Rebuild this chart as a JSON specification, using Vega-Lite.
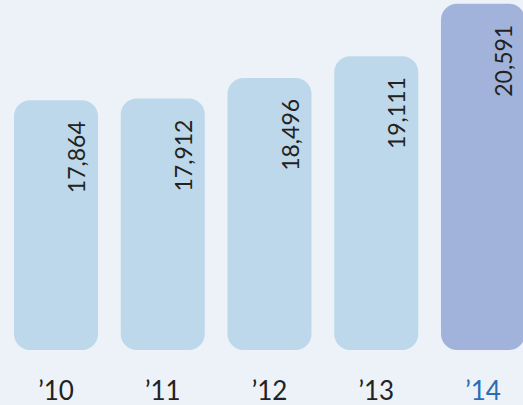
{
  "$schema": "https://vega.github.io/schema/vega-lite/v6.json",
  "autosize": "none",
  "width": 523,
  "height": 350,
  "padding": {"left": 0, "top": 0, "right": 0, "bottom": 55},
  "background": "#ecf2f8",
  "config": {"view": {"stroke": null}},
  "data": {"values": [
    {"year": "’10", "value": 17864},
    {"year": "’11", "value": 17912},
    {"year": "’12", "value": 18496},
    {"year": "’13", "value": 19111},
    {"year": "’14", "value": 20591}
  ]},
  "encoding": {
    "x": {"field": "year", "type": "nominal", "sort": null,
      "scale": {"range": [14, 525], "paddingInner": 0.213, "paddingOuter": 0},
      "axis": {"title": null, "domain": false, "ticks": false, "tickSize": 0, "labelAngle": 0,
        "labelFont": "Lato", "labelFontSize": 26, "labelBaseline": "alphabetic", "labelPadding": 49,
        "labelColor": {"condition": {"test": "datum.label === '’14'", "value": "#2a6db5"}, "value": "#222222"}}},
    "y": {"field": "value", "type": "quantitative",
      "scale": {"domain": [10800, 20700], "zero": false, "nice": false},
      "axis": null}
  },
  "layer": [
    {"mark": {"type": "bar", "cornerRadius": 16},
     "encoding": {
       "y2": {"datum": 10800},
       "color": {"condition": {"test": "datum.year === '’14'", "value": "#a1b3da"}, "value": "#bdd8ea"}}},
    {"mark": {"type": "text", "angle": 270, "align": "right", "baseline": "middle", "dx": -21, "dy": 22,
       "font": "Lato", "fontSize": 23, "color": "#222222"},
     "encoding": {"text": {"field": "value", "type": "quantitative", "format": ",d"}}}
  ]
}
